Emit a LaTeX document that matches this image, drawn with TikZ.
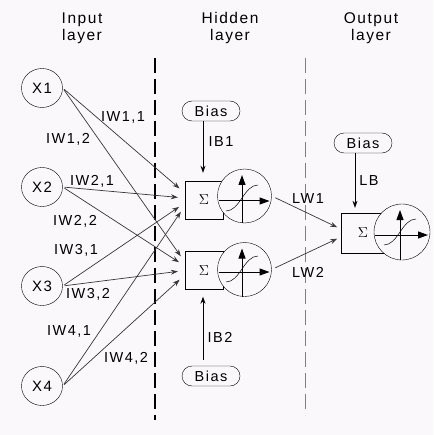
\documentclass[tikz,border=0pt]{standalone}
\usepackage{fontspec}
\setmainfont{Liberation Sans}[LetterSpace=10]
\usetikzlibrary{arrows.meta,shapes.geometric,shapes.misc}
\definecolor{bgpaper}{RGB}{250,248,251}
\definecolor{wgray}{RGB}{55,55,55}

\begin{document}
\begin{tikzpicture}[x=1pt, y=-1pt, every node/.style={font=\fontsize{14.5}{17}\selectfont},
    inp/.style={draw, ellipse, minimum width=41pt, minimum height=39pt, inner sep=0pt, font=\fontsize{15}{17}\selectfont},
    biasbox/.style={draw, rounded rectangle, minimum width=58pt, minimum height=20pt, inner sep=0pt},
    sumbox/.style={draw, minimum width=38pt, minimum height=38pt, inner sep=0pt, font=\fontsize{15}{15}\selectfont},
    actcirc/.style={draw, fill=bgpaper, circle, minimum size=54pt, inner sep=0pt},
    wline/.style={wgray, line width=0.7pt, shorten <=2pt, shorten >=7pt, -{Stealth[length=7pt,width=5pt]}},
    barrow/.style={line width=0.8pt, -{Stealth[length=7pt,width=5pt]}},
    axis/.style={line width=1pt, -{Triangle[length=10pt,width=7pt]}}]
    \fill[bgpaper] (0,0) rectangle (433,435);
    \useasboundingbox (0,0) rectangle (433,435);

    % layer titles
    \node[align=center, font=\fontsize{15.5}{17}\selectfont] (tin) at (82,28) {Input\\layer};
    \node[align=center, font=\fontsize{15.5}{17}\selectfont] (thid) at (230,28) {Hidden\\layer};
    \node[align=center, font=\fontsize{15.5}{17}\selectfont] (tout) at (371,28) {Output\\layer};

    % layer borders
    \draw[line width=1.3pt, dash pattern=on 15pt off 6pt] (155,58) -- (155,420);
    \draw[gray, line width=0.9pt, dash pattern=on 15pt off 6pt] (305,58) -- (305,415);

    % inputs
    \node[inp] (x1) at (42,88) {X1};
    \node[inp] (x2) at (42,187) {X2};
    \node[inp] (x3) at (42,286) {X3};
    \node[inp] (x4) at (42,386) {X4};

    % neurons
    \node[sumbox] (s1) at (204,200) {$\Sigma$};
    \node[actcirc] (f1) at (244.5,196) {};
    \node[sumbox] (s2) at (204,270.5) {$\Sigma$};
    \node[actcirc] (f2) at (244.5,269.5) {};
    \node[sumbox, minimum width=44pt, minimum height=40pt] (so) at (363,233) {$\Sigma$};
    \node[actcirc, minimum size=56pt] (fo) at (402,232) {};

    % transfer functions
    \foreach \cx/\cy/\r/\ax/\ay in {244.5/196/27/242/201, 244.5/269.5/27/242/272, 402/232/28/400/235} {
        \draw[axis] ({\cx-\r+1},\ay) -- ({\cx+\r-2},\ay);
        \draw[axis] (\ax,{\cy+\r}) -- (\ax,{\cy-\r+6});
        \draw[line width=0.5pt] ({\ax-16},{\ay+10}) .. controls ({\ax-2},{\ay+10}) and ({\ax+2},{\ay-16}) .. ({\ax+16},{\ay-16});
    }

    % biases
    \node[biasbox] (b1) at (211,111) {Bias};
    \node[biasbox] (b2) at (211,376) {Bias};
    \node[biasbox] (b3) at (363,143) {Bias};
    \draw[barrow, shorten >=8pt] ([xshift=-8pt]b1.south) -- ([xshift=-8pt]b1.south |- s1.north);
    \draw[barrow, shorten <=6pt, shorten >=7pt] ([xshift=-8pt]b2.north) -- ([xshift=-8pt]b2.north |- s2.south);
    \draw[barrow, line width=0.6pt, shorten >=5pt] ([xshift=-8pt]b3.south) -- ([xshift=-8pt]b3.south |- so.north);
    \node (lib1) at (221,142) {IB1};
    \node (lib2) at (220,337) {IB2};
    \node (llb) at (369,181) {LB};

    % input weights
    \foreach \i/\ya/\yb in {1/7/8.5, 2/2/4.5, 3/-3/0, 4/-6/-4.5} {
        \draw[wline] (x\i.east) -- ([yshift=\ya pt]s1.west);
        \draw[wline] (x\i.east) -- ([yshift=\yb pt]s2.west);
    }
    \node (liw11) at (123,117) {IW1,1};
    \node (liw12) at (68,139) {IW1,2};
    \node (liw21) at (92,181) {IW2,1};
    \node (liw22) at (75,221) {IW2,2};
    \node (liw31) at (76,250) {IW3,1};
    \node (liw32) at (88,294) {IW3,2};
    \node (liw41) at (69,331) {IW4,1};
    \node (liw42) at (126,358) {IW4,2};

    % layer weights
    \draw[wline, shorten <=4pt, shorten >=4pt] (f1.east) -- ([yshift=4pt]so.west);
    \draw[wline, shorten <=4pt, shorten >=4pt] (f2.east) -- ([yshift=-4pt]so.west);
    \node (llw1) at (308,199) {LW1};
    \node (llw2) at (308,272) {LW2};
\end{tikzpicture}
\end{document}
